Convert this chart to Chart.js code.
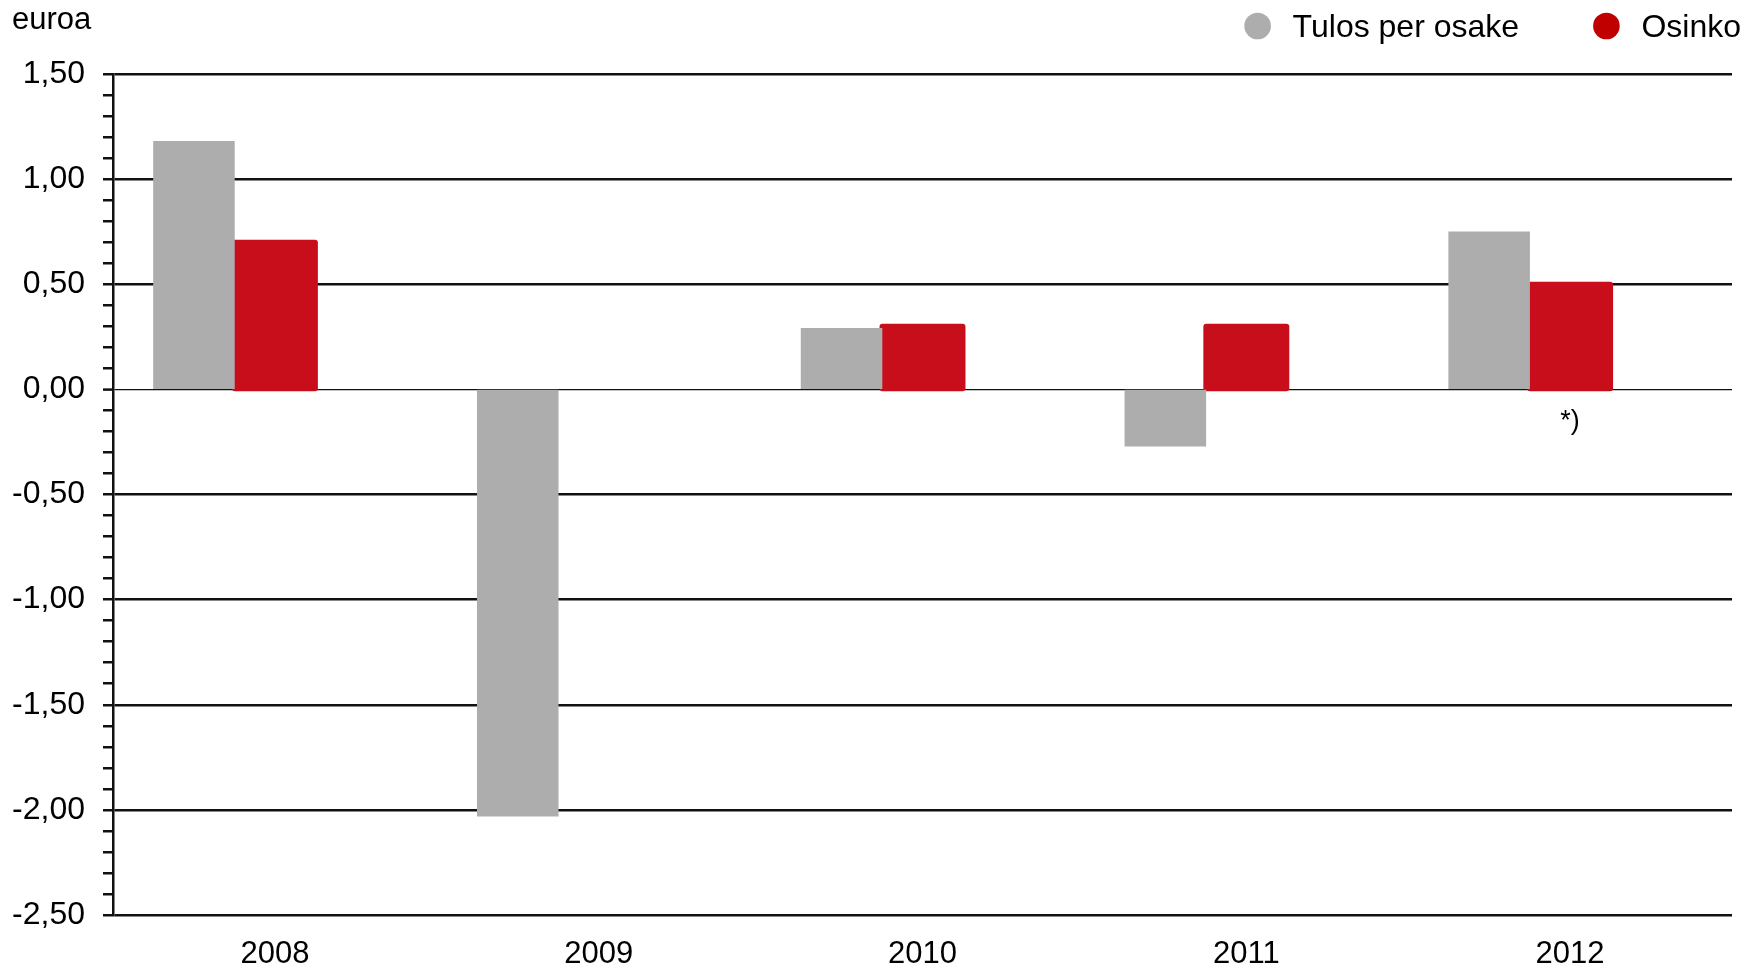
<!DOCTYPE html>
<html>
<head>
<meta charset="utf-8">
<script src="https://cdn.jsdelivr.net/npm/chart.js@4"></script>
<style>
  html, body { margin: 0; padding: 0; background: #fff; }
  #wrap { width: 1762px; height: 967px; position: relative; }
</style>
</head>
<body>
<div id="wrap"><canvas id="chart"></canvas></div>
<script>
// data
var years = ['2008', '2009', '2010', '2011', '2012'];
var epsValues = [1.18, -2.03, 0.29, -0.27, 0.75];
var dividendValues = [0.70, null, 0.30, 0.30, 0.50];
var seriesNames = ['Tulos per osake', 'Osinko'];
var seriesColors = ['#adadad', '#c80e1a'];
var yMin = -2.5, yMax = 1.5, yStep = 0.1;
var unitLabel = 'euroa';
var footnoteMark = '*)';   // shown under the last dividend bar

var FONT = '"Liberation Sans", Arial, sans-serif';

function isMajor(v) {
    return Math.abs(Math.round(v * 10)) % 5 === 0;
}

// unit text + legend in the top band
var headerPlugin = {
    id: 'header',
    afterDraw: function(chart) {
        var ctx = chart.ctx;
        ctx.save();
        ctx.fillStyle = '#000';
        ctx.font = '31px ' + FONT;
        ctx.textAlign = 'left';
        ctx.textBaseline = 'alphabetic';
        ctx.fillText(unitLabel, 12, 29);

        // legend, laid out from the right edge
        ctx.font = '32px ' + FONT;
        var x = 1741, r = 13.3;
        for (var i = seriesNames.length - 1; i >= 0; i--) {
            var w = ctx.measureText(seriesNames[i]).width;
            var tx = x - w;
            ctx.fillStyle = '#000';
            ctx.fillText(seriesNames[i], tx, 37);
            ctx.beginPath();
            ctx.arc(tx - 35, 26, r, 0, Math.PI * 2);
            ctx.fillStyle = i === 1 ? '#c00000' : seriesColors[i];
            ctx.fill();
            x = tx - 35 - r - 74;
        }
        ctx.restore();
    }
};

// "*)" under the last dividend bar
var footnotePlugin = {
    id: 'footnote',
    afterDatasetsDraw: function(chart) {
        var meta = chart.getDatasetMeta(1);
        var last = meta.data[years.length - 1];
        if (!last) return;
        var ctx = chart.ctx;
        ctx.save();
        ctx.fillStyle = '#000';
        ctx.font = '27px ' + FONT;
        ctx.textAlign = 'center';
        ctx.textBaseline = 'middle';
        ctx.fillText(footnoteMark, last.x, chart.scales.y.getPixelForValue(0) + 32);
        ctx.restore();
    }
};

var ctx = document.getElementById('chart');
var chart = new Chart(ctx.getContext('2d'), {
    type: 'bar',
    data: {
        labels: years,
        datasets: [{
            label: seriesNames[0],
            data: epsValues,
            backgroundColor: seriesColors[0],
            inflateAmount: 0.3
        }, {
            label: seriesNames[1],
            data: dividendValues,
            backgroundColor: seriesColors[1],
            inflateAmount: 2.5,
            borderRadius: 3,
            borderSkipped: false
        }, {
            // empty slot so the red bar sits on the year tick
            label: '',
            data: years.map(function(){ return null; }),
            backgroundColor: 'rgba(0,0,0,0)'
        }]
    },
    options: {
        responsive: true,
        maintainAspectRatio: false,
        animation: false,
        datasets: {
            bar: { categoryPercentage: 0.75, barPercentage: 1.0 }
        },
        layout: { padding: { top: 74, right: 30, left: 0, bottom: 0 } },
        plugins: {
            legend: { display: false },
            tooltip: { enabled: false }
        },
        scales: {
            x: {
                grid: { display: false, drawTicks: false },
                border: { display: false },
                ticks: {
                    color: '#000',
                    font: { family: FONT, size: 31 },
                    padding: 21
                },
                afterFit: function(s) { s.height = 52; }
            },
            y: {
                min: yMin,
                max: yMax,
                border: { display: true, color: '#111', width: 2.5 },
                grid: {
                    color: function(c) { return isMajor(c.tick.value) ? '#111' : 'rgba(0,0,0,0)'; },
                    lineWidth: function(c) { return Math.abs(c.tick.value) < 1e-9 ? 1.2 : 2.5; },
                    tickColor: '#111',
                    tickWidth: 2.5,
                    tickLength: 10,
                    drawTicks: true
                },
                ticks: {
                    stepSize: yStep,
                    maxTicksLimit: 100,
                    autoSkip: false,
                    color: '#000',
                    padding: 18,
                    font: { family: FONT, size: 32 },
                    callback: function(v) {
                        return isMajor(v) ? v.toFixed(2).replace('.', ',') : '';
                    }
                },
                afterFit: function(s) { s.width = 113; }
            }
        }
    },
    plugins: [headerPlugin, footnotePlugin]
});
</script>
</body>
</html>
